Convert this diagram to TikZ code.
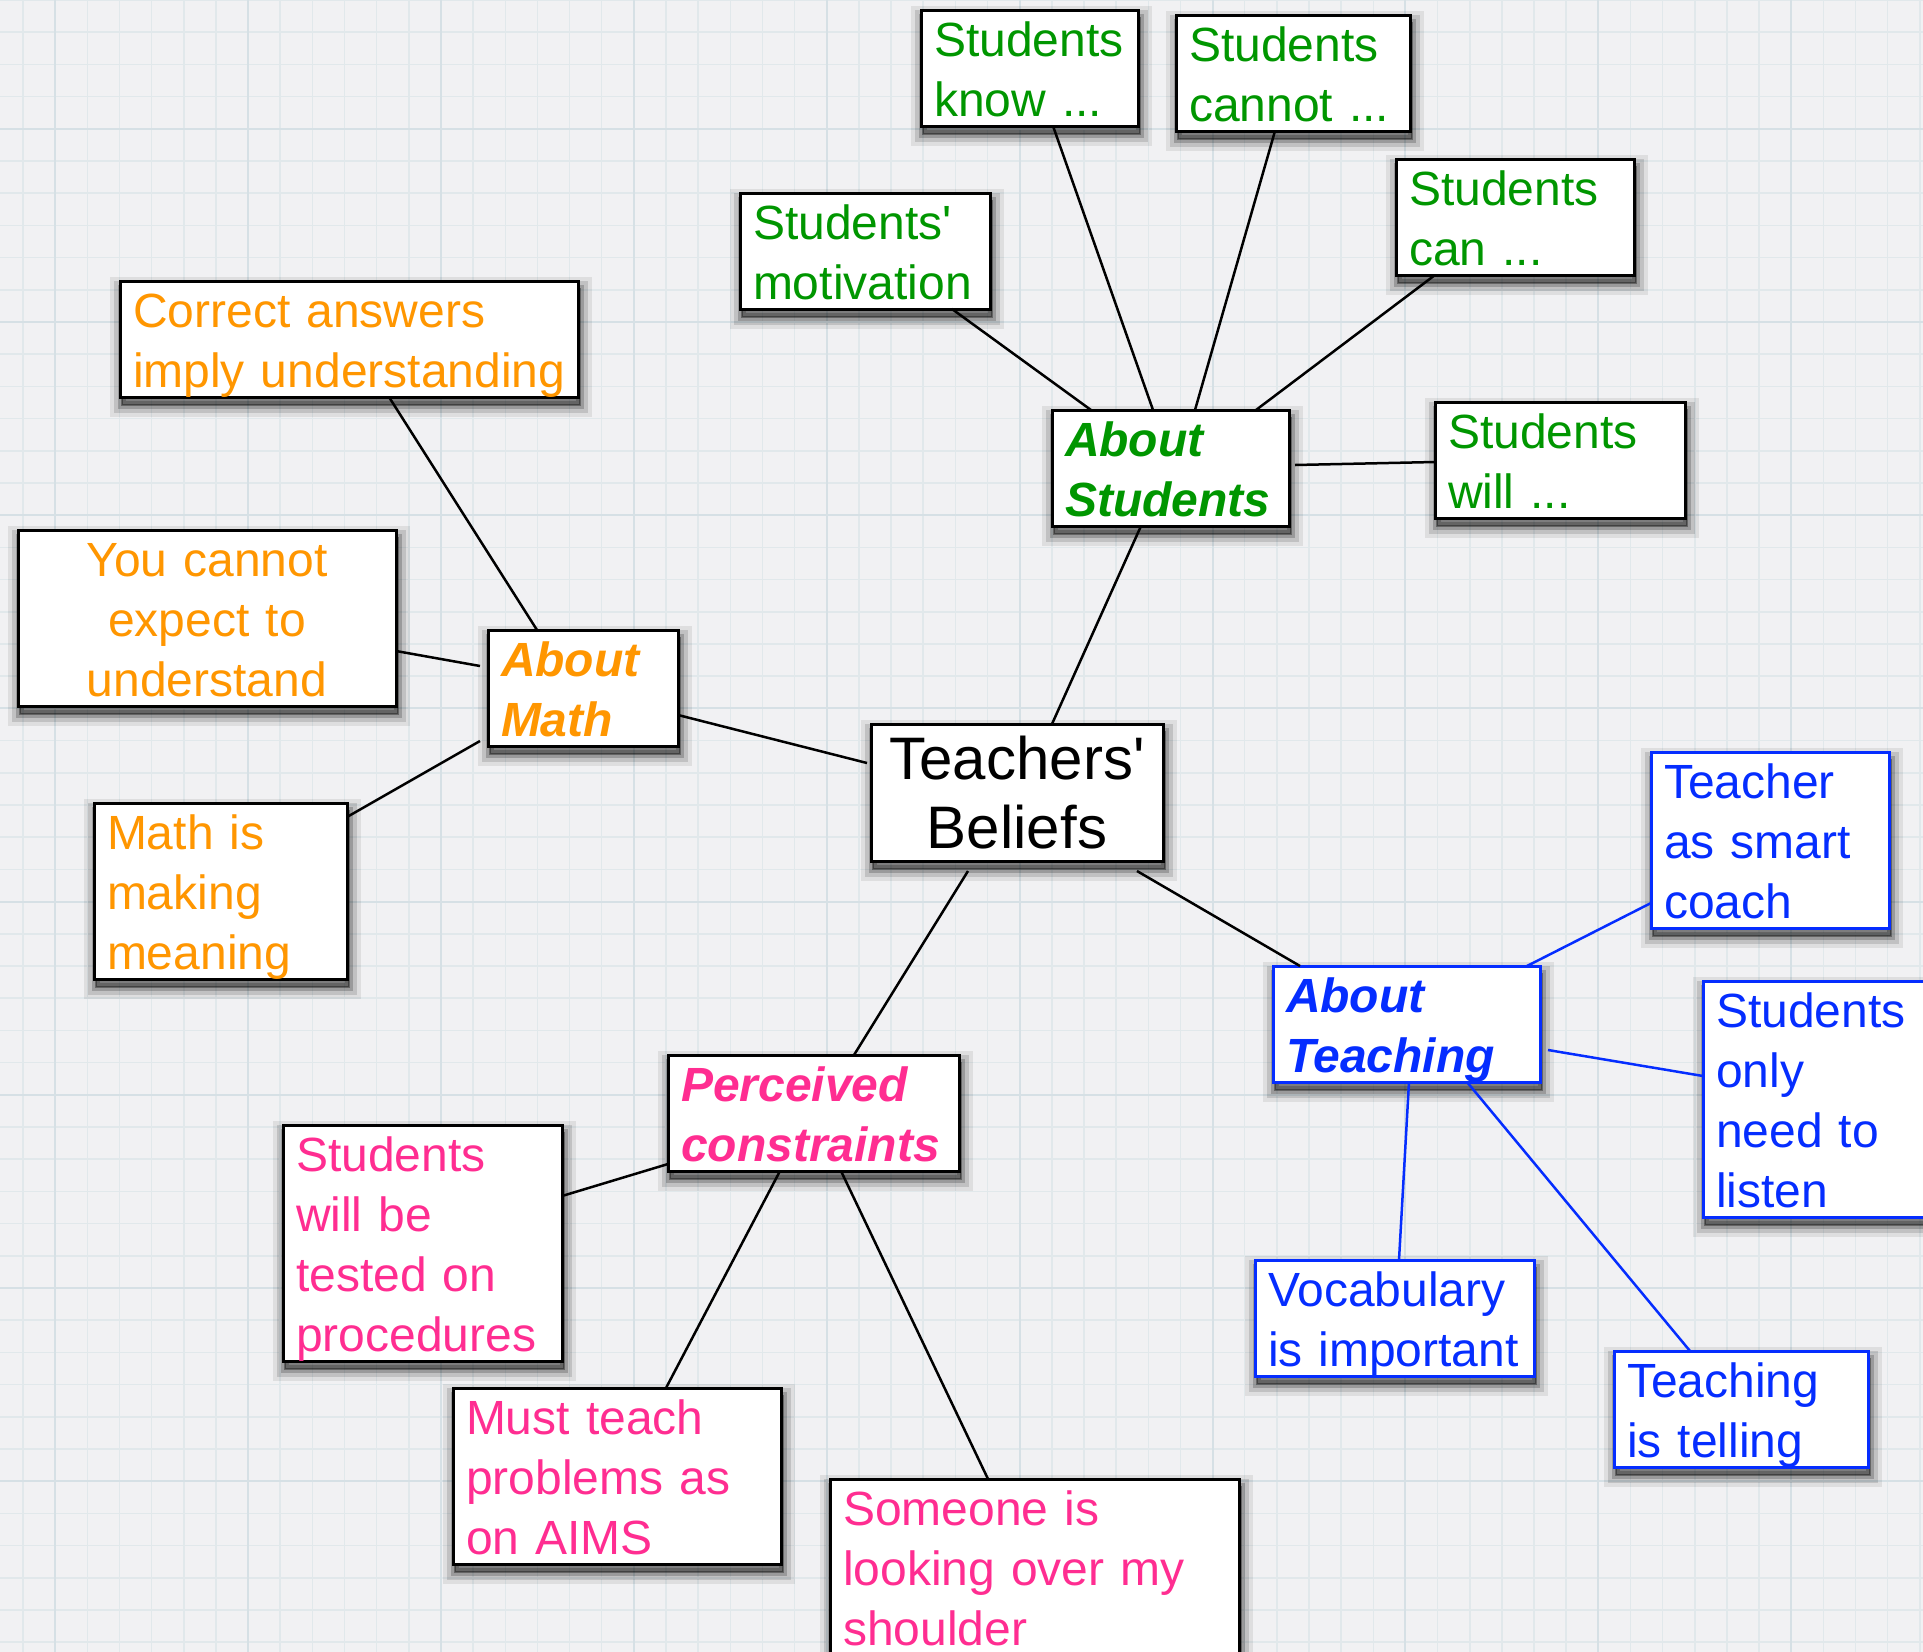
\documentclass[tikz,border=0pt]{standalone}
\usepackage{fontspec}
\setmainfont{Liberation Sans}
\usetikzlibrary{shadows}
\definecolor{cgreen}{RGB}{0,150,0}
\definecolor{corange}{RGB}{255,150,0}
\definecolor{cpink}{RGB}{255,45,145}
\definecolor{cblue}{RGB}{5,45,255}
\definecolor{bgc}{RGB}{241,241,243}
\definecolor{gridminor}{RGB}{225,232,235}
\definecolor{gridmajor}{RGB}{214,224,229}
\tikzset{
 softshadow/.style={
   general shadow={draw=black, line width=24pt, opacity=0.08, shadow xshift=2pt, shadow yshift=-8pt},
   general shadow={draw=black, line width=16pt, opacity=0.13, shadow xshift=2pt, shadow yshift=-8pt},
   general shadow={draw=black, line width=8pt, opacity=0.20, shadow xshift=2pt, shadow yshift=-8pt},
   general shadow={fill=black, draw=black, line width=2pt, opacity=0.35, shadow xshift=2pt, shadow yshift=-8pt}},
 nbox/.style={softshadow, draw=black, line width=3pt, fill=white, anchor=north west, outer sep=0pt,
   inner xsep=13pt, inner ysep=10pt, align=left, text height=36pt,
   font=\fontsize{48pt}{60pt}\selectfont,
   execute at begin node={\hyphenpenalty=10000\exhyphenpenalty=10000}},
 ltwo/.style={text depth=60pt},
 lthree/.style={text depth=120pt},
 lfour/.style={text depth=180pt},
 greenbox/.style={nbox, text=cgreen},
 orangebox/.style={nbox, text=corange},
 pinkbox/.style={nbox, text=cpink},
 bluebox/.style={nbox, draw=cblue, text=cblue},
 headtext/.style={font=\fontsize{48pt}{60pt}\selectfont\bfseries\itshape},
 link/.style={line width=2.5pt, draw=black},
 bluelink/.style={line width=2.5pt, draw=cblue},
}
\begin{document}
\begin{tikzpicture}[x=1pt,y=-1pt]
\path[use as bounding box] (0,0) rectangle (1923,1652);
\begin{scope}
\clip (0,0) rectangle (1923,1652);
\fill[bgc] (0,0) rectangle (1923,1652);
\foreach \k in {0,...,59} {\draw[gridminor, line width=1.5pt] ({23+32.15*\k},0) -- ++(0,1652);}
\foreach \k in {0,...,51} {\draw[gridminor, line width=1.5pt] (0,{32.2*\k}) -- ++(1923,0);}
\foreach \k in {1,7,...,59} {\draw[gridmajor, line width=2pt] ({23+32.15*\k},0) -- ++(0,1652);}
\foreach \k in {4,10,...,52} {\draw[gridmajor, line width=2pt] (0,{32.2*\k}) -- ++(1923,0);}

% students branch
\node[greenbox, ltwo, text width=191pt] (sknow) at (921,10) {Students\\know~...};
\node[greenbox, ltwo, text width=208pt] (scannot) at (1176,15) {Students\\cannot~...};
\node[greenbox, ltwo, text width=224pt] (smot) at (740,193) {Students\textquotesingle\\motivation};
\node[greenbox, ltwo, text width=212pt] (scan) at (1396,159) {Students\\can~...};
\node[greenbox, ltwo, headtext, text width=211pt] (aboutS) at (1052,410) {About\\Students};
\node[greenbox, ltwo, text width=224pt] (swill) at (1435,402) {Students\\will~...};
% math branch
\node[orangebox, ltwo, text width=432pt] (correct) at (120,281) {Correct~answers\\imply~understanding};
\node[orangebox, lthree, align=center, text width=352pt] (youcannot) at (18,530) {You~cannot\\expect~to\\understand};
\node[orangebox, ltwo, headtext, text width=164pt] (aboutM) at (488,630) {About\\Math};
\node[orangebox, lthree, text width=227pt] (mathis) at (94,803) {Math~is\\making\\meaning};
% centre
\node[nbox, align=center, text=black, font=\fontsize{60pt}{69pt}\selectfont, text height=43pt, text depth=69pt, inner ysep=12.5pt, text width=266pt] (tb) at (871,724) {Teachers\textquotesingle\\Beliefs};
% teaching branch
\node[bluebox, lthree, text width=212pt] (coach) at (1651,752) {Teacher\\as~smart\\coach};
\node[bluebox, ltwo, headtext, text width=241pt] (aboutT) at (1273,966) {About\\Teaching};
\node[bluebox, lfour, text width=214pt] (listen) at (1703,981) {Students\\only\\need~to\\listen};
\node[bluebox, ltwo, text width=253pt] (vocab) at (1255,1260) {Vocabulary\\is~important};
\node[bluebox, ltwo, text width=228pt] (telling) at (1614,1351) {Teaching\\is~telling};
% constraints branch
\node[pinkbox, ltwo, headtext, text width=265pt] (perc) at (668,1055) {Perceived\\constraints};
\node[pinkbox, lfour, text width=253pt] (tested) at (283,1125) {Students\\will~be\\tested~on\\procedures};
\node[pinkbox, lthree, text width=302pt] (aims) at (453,1388) {Must~teach\\problems~as\\on~AIMS};
\node[pinkbox, lthree, text width=383pt] (someone) at (830,1479) {Someone~is\\looking~over~my\\shoulder};

% connectors
\draw[link] ([xshift=132pt]sknow.south west) -- ([xshift=101pt]aboutS.north west);
\draw[link] ([xshift=99pt]scannot.south west) -- ([xshift=143pt]aboutS.north west);
\draw[link] ([xshift=212pt]smot.south west) -- ([xshift=39pt]aboutS.north west);
\draw[link] ([xshift=39pt]scan.south west) -- ([xshift=204pt]aboutS.north west);
\draw[link] ([xshift=6pt,yshift=-55pt]aboutS.north east) -- ([yshift=-60pt]swill.north west);
\draw[link] ([xshift=89pt]aboutS.south west) -- ([xshift=181pt]tb.north west);
\draw[link] ([yshift=-85pt]aboutM.north east) -- ([xshift=-4pt,yshift=-39pt]tb.north west);
\draw[link] ([xshift=269pt]correct.south west) -- ([xshift=49pt]aboutM.north west);
\draw[link] ([yshift=-121pt]youcannot.north east) -- ([xshift=-8pt,yshift=-36pt]aboutM.north west);
\draw[link] ([yshift=-14pt]mathis.north east) -- ([xshift=-8pt,yshift=-111pt]aboutM.north west);
\draw[link] ([xshift=266pt,yshift=-10pt]tb.south west) -- ([xshift=27pt]aboutT.north west);
\draw[link] ([xshift=97pt,yshift=-10pt]tb.south west) -- ([xshift=186pt]perc.north west);
\draw[bluelink] ([xshift=254pt]aboutT.north west) -- ([yshift=-151pt]coach.north west);
\draw[bluelink] ([xshift=8pt,yshift=-84pt]aboutT.north east) -- ([yshift=-95pt]listen.north west);
\draw[bluelink] ([xshift=136pt]aboutT.south west) -- ([xshift=144pt]vocab.north west);
\draw[bluelink] ([xshift=194pt]aboutT.south west) -- ([xshift=76pt]telling.north west);
\draw[link] ([yshift=-109pt]perc.north west) -- ([yshift=-71pt]tested.north east);
\draw[link] ([xshift=112pt]perc.south west) -- ([xshift=213pt]aims.north west);
\draw[link] ([xshift=173pt]perc.south west) -- ([xshift=158pt]someone.north west);
\end{scope}
\end{tikzpicture}
\end{document}
